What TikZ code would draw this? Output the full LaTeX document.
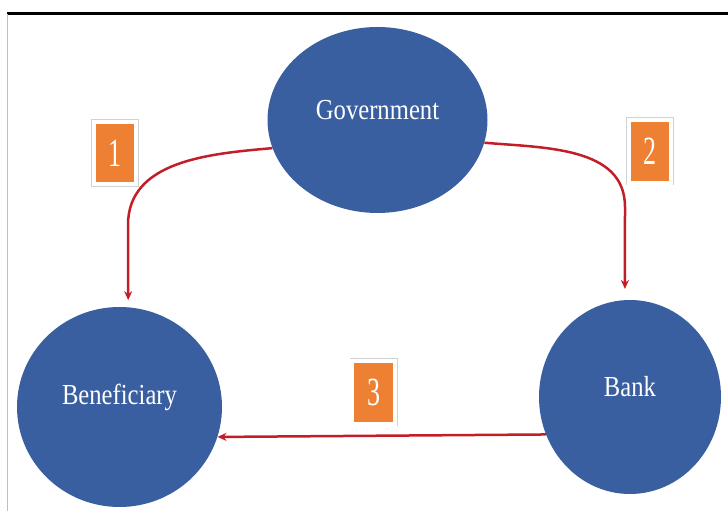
\documentclass[tikz,border=0pt]{standalone}
\usepackage{fontspec}
\usetikzlibrary{arrows.meta,shapes.geometric}
\newfontfamily\namefont[FakeStretch=0.85]{Liberation Serif}
\newfontfamily\numfont[FakeStretch=0.65]{Liberation Serif}
\definecolor{bubbleblue}{RGB}{58,95,160}
\definecolor{flowred}{RGB}{195,30,40}
\definecolor{numorange}{RGB}{237,128,50}

\begin{document}
\begin{tikzpicture}[x=1pt,y=1pt,
        bubble/.style={ellipse, fill=bubbleblue, inner sep=0pt},
        nametext/.style={text=white, font=\namefont\fontsize{29}{34}\selectfont, yshift=10pt},
        flow/.style={draw=flowred, line width=2.5pt, -{Stealth[length=9pt,width=8pt]}},
        numbox/.style={fill=numorange, draw=white, line width=4pt,
            preaction={draw=gray!35, line width=5.5pt},
            minimum width=42.5pt, minimum height=62.5pt, inner sep=0pt,
            text=white, font=\numfont\fontsize{40}{44}\selectfont}]
                \useasboundingbox (0, 0) rectangle (728, 511);
                % frame
                \draw [line width=3pt] (7, 497) -- (728, 497);
                \draw [gray!50, line width=1pt] (7, 497) -- (7, 0);
                % parties
                \node [bubble, minimum width=220pt, minimum height=186pt,
                    label={[nametext]center:Government}] (gov) at (377.5, 391) {};
                \node [bubble, minimum width=205pt, minimum height=200pt,
                    label={[nametext]center:Beneficiary}] (ben) at (119.5, 104) {};
                \node [bubble, minimum width=182pt, minimum height=194pt,
                    label={[nametext]center:Bank}] (bank) at (630, 114) {};
                % bends of the flows
                \coordinate (bend1) at (128, 286);
                \coordinate (bend2) at (625, 304);
                % flows
                \draw [flow, shorten >=7pt] (gov.195) to[out=185, in=90] (bend1) -- (ben.85);
                \draw [flow, shorten >=11pt] (gov.-12) to[out=-5, in=90] (bend2) -- (bank.93);
                \draw [flow] (bank.204) -- (ben.-17);
                % step numbers
                \node [numbox] (step1) at (115, 358) {1};
                \node [numbox] (step2) at (650, 359.5) {2};
                \node [numbox] (step3) at (373.5, 118.5) {3};
            \end{tikzpicture}
\end{document}
